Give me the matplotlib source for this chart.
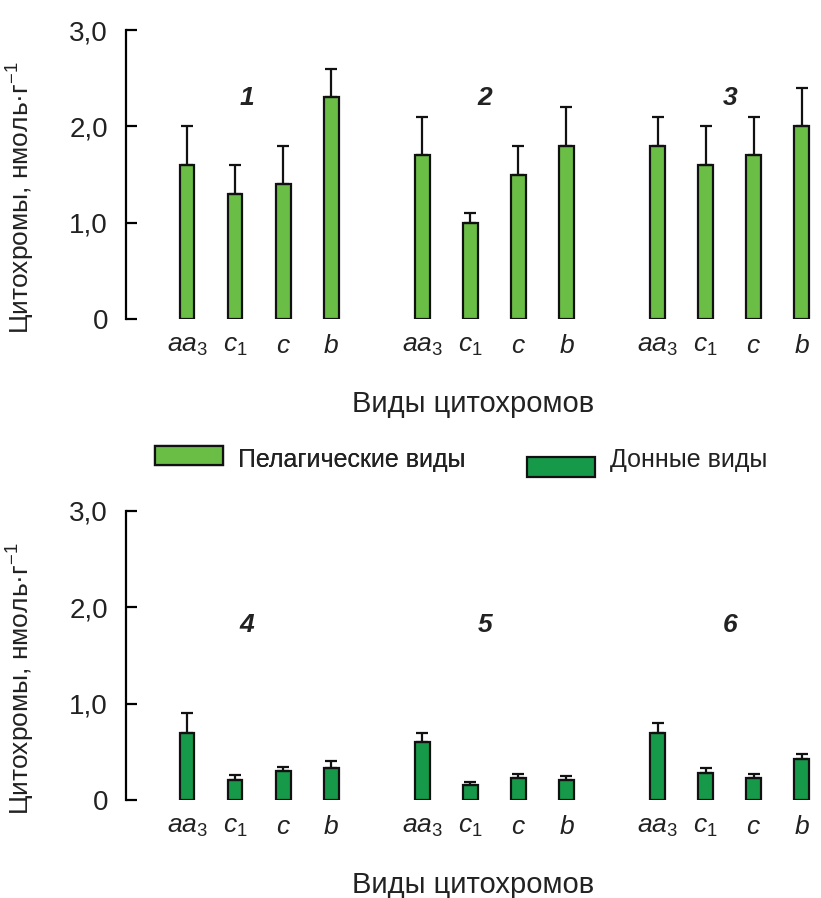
import numpy as np
import matplotlib.pyplot as plt
from matplotlib.patches import Patch, Rectangle
from matplotlib.legend_handler import HandlerPatch

plt.rcParams['font.family'] = ['Liberation Sans', 'DejaVu Sans']
plt.rcParams['mathtext.fontset'] = 'custom'
plt.rcParams['mathtext.rm'] = 'Liberation Sans'
plt.rcParams['mathtext.it'] = 'Liberation Sans:italic'
plt.rcParams['mathtext.bf'] = 'Liberation Sans:bold'

# Data
cyto_labels = [r'$aa_{3}$', r'$c_{1}$', r'$c$', r'$b$']

pelagic_groups = ['1', '2', '3']
pelagic_mean = [[1.6, 1.3, 1.4, 2.3],
                [1.7, 1.0, 1.5, 1.8],
                [1.8, 1.6, 1.7, 2.0]]
pelagic_err = [[0.4, 0.3, 0.4, 0.3],
               [0.4, 0.1, 0.3, 0.4],
               [0.3, 0.4, 0.4, 0.4]]

benthic_groups = ['4', '5', '6']
benthic_mean = [[0.70, 0.21, 0.30, 0.33],
                [0.60, 0.16, 0.23, 0.21],
                [0.70, 0.28, 0.23, 0.43]]
benthic_err = [[0.20, 0.05, 0.04, 0.08],
               [0.10, 0.03, 0.04, 0.04],
               [0.10, 0.05, 0.04, 0.05]]

LIGHT = '#6abd45'
DARK = '#17994a'
TXT = '#222222'
GROUP_STEP = 4.9
BAR_W = 0.31

W, H = 821, 898
fig = plt.figure(figsize=(W / 100, H / 100), dpi=100)


def panel(top_px, groups, means, errs, color, label_y, label_dx):
    ax = fig.add_axes([126 / W, 1 - (top_px + 289) / H, (W - 126) / W, 289 / H])
    ticks, ticklabels = [], []
    for g, (name, m, e) in enumerate(zip(groups, means, errs)):
        x = g * GROUP_STEP + np.arange(len(m))
        ax.bar(x, m, width=BAR_W, color=color, edgecolor='#111111', linewidth=1.6,
               yerr=[np.zeros(len(e)), e], capsize=4,
               error_kw=dict(elinewidth=1.6, capthick=1.6, ecolor='#111111'), zorder=2)
        ax.text(g * GROUP_STEP + label_dx[g], label_y, name, fontsize=19, color=TXT,
                fontweight='bold', fontstyle='italic', ha='center', va='center')
        ticks.extend(x)
        ticklabels.extend(cyto_labels)
    ax.set_xticks(ticks)
    ax.set_xticklabels(ticklabels, fontsize=19, color=TXT)
    ax.tick_params(axis='x', length=0, pad=11)
    ax.set_ylim(0, 3.0)
    ax.set_xlim(-1.27, 13.2)
    ax.set_yticks([0, 1, 2, 3])
    ax.set_yticklabels(['0', '1,0', '2,0', '3,0'], fontsize=20, color=TXT)
    ax.tick_params(axis='y', direction='in', length=8, width=1.6, pad=13)
    for s in ['top', 'right', 'bottom']:
        ax.spines[s].set_visible(False)
    ax.spines['left'].set_linewidth(1.6)
    ax.set_ylabel('Цитохромы, нмоль·г$^{-1}$', fontsize=19, color=TXT)
    ax.yaxis.set_label_coords(-0.128, 0.42)
    ax.set_xlabel('Виды цитохромов', fontsize=21, color=TXT)
    ax.xaxis.set_label_coords(0.5, -0.247)
    return ax


panel(30, pelagic_groups, pelagic_mean, pelagic_err, LIGHT, 2.29, [1.25, 1.3, 1.5])
panel(511, benthic_groups, benthic_mean, benthic_err, DARK, 1.82, [1.25, 1.3, 1.5])


def shifted_box(dy):
    # legend box nudged down by dy pixels, as in the original layout
    def make(legend, orig_handle, xdescent, ydescent, width, height, fontsize):
        return Rectangle((-xdescent, -ydescent - dy), width, height)
    return HandlerPatch(patch_func=make)


leg_kw = dict(loc='center left', frameon=False, fontsize=18, borderpad=0, borderaxespad=0,
              handlelength=2.7, handleheight=0.84, handletextpad=0.6, labelcolor=TXT)
h1 = Patch(facecolor=LIGHT, edgecolor='#111111', linewidth=1.6, label='Пелагические виды')
h2 = Patch(facecolor=DARK, edgecolor='#111111', linewidth=1.6, label='Донные виды')
leg1 = fig.legend(handles=[h1], bbox_to_anchor=(155 / W, 1 - 460 / H),
                  handler_map={h1: shifted_box(-2)}, **leg_kw)
fig.add_artist(leg1)
fig.legend(handles=[h2], bbox_to_anchor=(527 / W, 1 - 460 / H),
           handler_map={h2: shifted_box(6)}, **leg_kw)

fig.savefig('out.png', dpi=100)
